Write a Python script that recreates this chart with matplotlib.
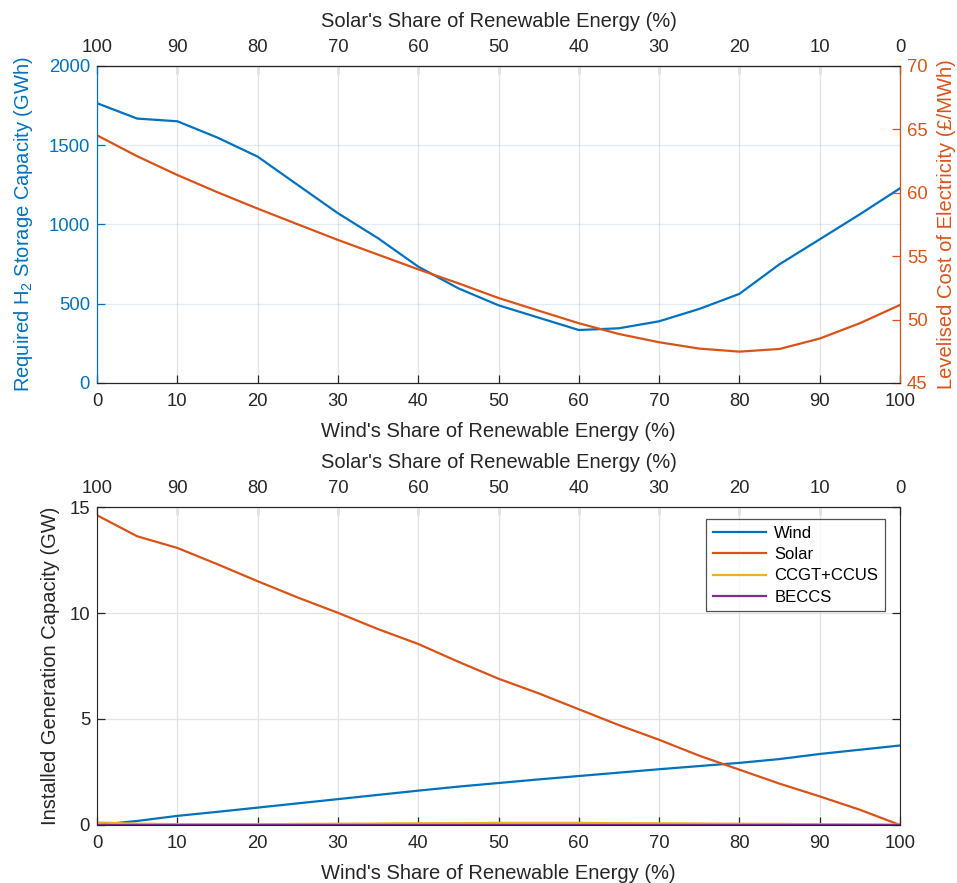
import matplotlib
matplotlib.use("Agg")
import matplotlib.pyplot as plt
import numpy as np

plt.rcParams['font.family'] = ['Liberation Sans', 'DejaVu Sans']
plt.rcParams['mathtext.fontset'] = 'custom'
plt.rcParams['mathtext.rm'] = 'Liberation Sans'
plt.rcParams['mathtext.default'] = 'regular'

# ---- data ----
wind_share = [0, 5, 10, 15, 20, 25, 30, 35, 40, 45, 50, 55, 60, 65, 70, 75, 80, 85, 90, 95, 100]
storage_gwh = [1765, 1668, 1651, 1548, 1428, 1249, 1071, 913, 734, 597, 490, 412, 334, 345, 389,
               467, 562, 749, 906, 1064, 1228]
lcoe = [64.53, 62.88, 61.40, 60.04, 58.75, 57.51, 56.28, 55.12, 53.96, 52.86, 51.70, 50.70, 49.71,
        48.86, 48.21, 47.71, 47.47, 47.68, 48.50, 49.71, 51.15]
cap_wind = [0.0, 0.19, 0.43, 0.62, 0.82, 1.02, 1.22, 1.42, 1.62, 1.81, 1.98, 2.15, 2.31, 2.47,
            2.63, 2.78, 2.93, 3.11, 3.35, 3.55, 3.75]
cap_solar = [14.61, 13.62, 13.07, 12.30, 11.50, 10.73, 10.01, 9.24, 8.54, 7.70, 6.90, 6.21, 5.46,
             4.71, 4.02, 3.27, 2.61, 1.95, 1.35, 0.72, 0.0]
cap_ccgt = [0.12, 0.06, 0.04, 0.04, 0.04, 0.05, 0.06, 0.07, 0.08, 0.09, 0.10, 0.10, 0.10, 0.09,
            0.08, 0.07, 0.06, 0.05, 0.04, 0.03, 0.02]
cap_beccs = [0.0] * 21
x_ticks = [0, 10, 20, 30, 40, 50, 60, 70, 80, 90, 100]

BLUE = '#0072BD'
ORANGE = '#D95319'
YELLOW = '#EDB120'
PURPLE = '#7E2F8E'
DARK = '#262626'
TICK = 13.3
LAB = 14.5

fig = plt.figure(figsize=(9.57, 8.83), dpi=100)

def style_x(ax):
    ax.set_xlim(0, 100)
    ax.set_xticks(x_ticks)
    ax.tick_params(axis='x', direction='in', length=6, width=0.9, colors=DARK,
                   labelsize=TICK, pad=7, top=False)
    ax.grid(True, axis='x', color='#e3e3e3', linewidth=0.9)
    ax.set_xlabel("Wind's Share of Renewable Energy (%)", fontsize=LAB, color=DARK, labelpad=9)
    sec = ax.secondary_xaxis('top', functions=(lambda v: 100 - v, lambda v: 100 - v))
    sec.set_xticks(x_ticks)
    sec.tick_params(axis='x', direction='in', length=6, width=0.9, colors=DARK,
                    labelsize=TICK, pad=7)
    sec.spines['top'].set_color(DARK)
    sec.set_xlabel("Solar's Share of Renewable Energy (%)", fontsize=LAB, color=DARK, labelpad=9)
    return sec

# ---- top panel ----
ax1 = fig.add_axes([0.1014, 0.5663, 0.8390, 0.3590])
ax1.set_axisbelow(True)
ax1.plot(wind_share, storage_gwh, color=BLUE, lw=1.6)
ax1.set_ylim(0, 2000)
ax1.set_yticks([0, 500, 1000, 1500, 2000])
ax1.tick_params(axis='y', direction='in', length=6, width=0.9, colors=BLUE, labelsize=TICK, pad=5)
ax1.grid(True, axis='y', color=BLUE, alpha=0.12, linewidth=0.9)
ax1.set_ylabel('Required H$_2$ Storage Capacity (GWh)', color=BLUE, fontsize=LAB, labelpad=10)
style_x(ax1)
for s in ['bottom', 'top']:
    ax1.spines[s].set_color(DARK)
ax1.spines['left'].set_color(BLUE)

ax2 = ax1.twinx()
ax2.plot(wind_share, lcoe, color=ORANGE, lw=1.6)
ax2.set_ylim(45, 70)
ax2.set_yticks([45, 50, 55, 60, 65, 70])
ax2.tick_params(axis='y', direction='in', length=6, width=0.9, colors=ORANGE, labelsize=TICK, pad=5)
ax2.set_ylabel('Levelised Cost of Electricity (£/MWh)', color=ORANGE, fontsize=LAB, labelpad=7)
ax2.spines['right'].set_color(ORANGE)
ax2.spines['left'].set_color(BLUE)
ax2.spines['top'].set_color(DARK)
ax2.spines['bottom'].set_color(DARK)

# ---- bottom panel ----
ax3 = fig.add_axes([0.1014, 0.0657, 0.8390, 0.3601])
ax3.set_axisbelow(True)
ax3.plot(wind_share, cap_wind, color=BLUE, lw=1.6, label='Wind')
ax3.plot(wind_share, cap_solar, color=ORANGE, lw=1.6, label='Solar')
ax3.plot(wind_share, cap_ccgt, color=YELLOW, lw=1.6, label='CCGT+CCUS')
ax3.plot(wind_share, cap_beccs, color=PURPLE, lw=1.6, label='BECCS')
ax3.set_ylim(0, 15)
ax3.set_yticks([0, 5, 10, 15])
ax3.tick_params(axis='y', direction='in', length=6, width=0.9, colors=DARK, labelsize=TICK,
                pad=5, right=True)
ax3.grid(True, axis='y', color='#e3e3e3', linewidth=0.9)
ax3.set_ylabel('Installed Generation Capacity (GW)', color=DARK, fontsize=LAB, labelpad=7)
style_x(ax3)
for s in ax3.spines.values():
    s.set_color(DARK)
leg = ax3.legend(loc='upper right', fontsize=12, frameon=True, fancybox=False,
                 edgecolor=DARK, handlelength=3.2, borderpad=0.4, labelspacing=0.38,
                 handletextpad=0.48, bbox_to_anchor=(0.981, 0.962), borderaxespad=0)
leg.get_frame().set_linewidth(0.9)

fig.savefig('out.png', dpi=100)
